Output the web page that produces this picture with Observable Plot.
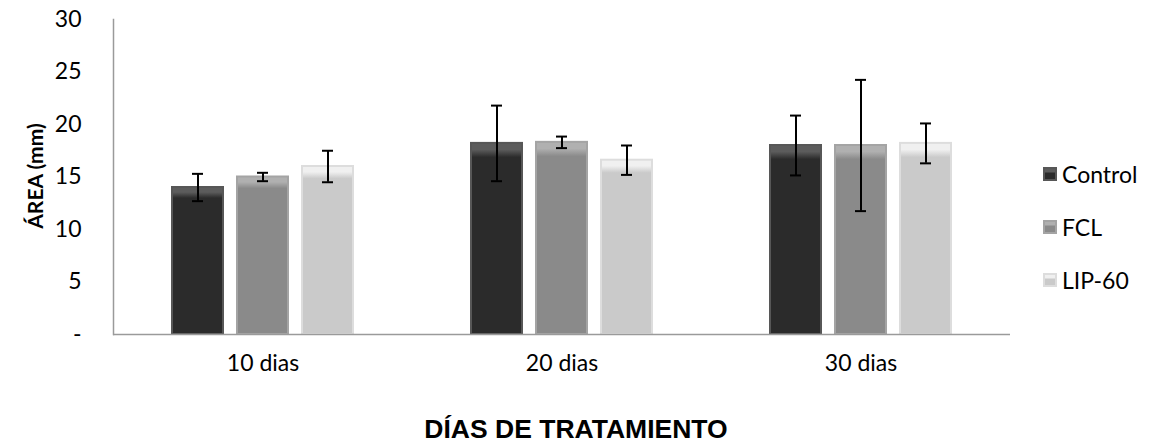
<!DOCTYPE html>
<html>
<head>
<meta charset="utf-8">
<script src="https://cdn.jsdelivr.net/npm/d3@7"></script>
<script src="https://cdn.jsdelivr.net/npm/@observablehq/plot@0.6"></script>
<style>
  html, body { margin: 0; padding: 0; background: #fff; }
  #wrap { position: relative; width: 1151px; height: 444px; overflow: hidden; font-family: Lato, sans-serif; }
  #title { position: absolute; left: 0; top: 414px; width: 1152px; text-align: center;
           font-family: "Liberation Sans", Arial, sans-serif; font-weight: bold; font-size: 26.5px; line-height: 30px; color: #000; }
  #ylabel { position: absolute; left: 35px; top: 176px; transform: translate(-50%, -50%) rotate(-90deg);
            white-space: nowrap; font-family: Lato, sans-serif; font-weight: bold; font-size: 21px; line-height: 24px; color: #000; }
  #legend { position: absolute; left: 1043px; top: 159px; }
  .li { display: flex; align-items: center; height: 30px; margin-bottom: 23px; font-size: 23px; color: #000; }
  .sw { width: 14px; height: 14px; margin-right: 5px; box-sizing: border-box; }
</style>
</head>
<body>
<div id="wrap">
  <div id="chart"></div>
  <div id="ylabel">ÁREA (mm)</div>
  <div id="legend"></div>
  <div id="title">DÍAS DE TRATAMIENTO</div>
</div>
<script>
// ---- data ----
const days = ["10 dias", "20 dias", "30 dias"];
const series = ["Control", "FCL", "LIP-60"];
const control = [14.0, 18.2, 18.0];
const fcl     = [15.0, 18.3, 18.0];
const lip60   = [16.0, 16.6, 18.2];
const controlErr = [1.3, 3.6, 2.85];
const fclErr     = [0.4, 0.55, 6.25];
const lip60Err   = [1.5, 1.4, 1.9];
const yTicks = [0, 5, 10, 15, 20, 25, 30];
const colors = ["#2b2b2b", "#8a8a8a", "#cacaca"];
const tops = ["#5c5c5c", "#b0b0b0", "#f0f0f0"];
const strokes = ["#575757", "#a4a4a4", "#dddddd"];
const gradIds = ["gC", "gF", "gL"];

const values = [control, fcl, lip60];
const errs = [controlErr, fclErr, lip60Err];
const rows = [];
days.forEach((d, i) => series.forEach((s, j) => {
  rows.push({day: d, series: s, value: values[j][i], err: errs[j][i]});
}));

const chart = Plot.plot({
  width: 1151,
  height: 395,
  marginLeft: 112,
  marginRight: 140,
  marginTop: 19,
  marginBottom: 61,
  style: {fontFamily: "Lato, sans-serif", fontSize: "23px", color: "#000", background: "#fff"},
  fx: {domain: days, padding: 0, label: null, tickSize: 0, tickPadding: 20},
  x: {domain: series, paddingInner: 0.22, paddingOuter: 0.89, axis: null},
  y: {domain: [0, 30], ticks: yTicks, tickFormat: d => d === 0 ? "-" : d, tickSize: 0, tickPadding: 32, label: null},
  color: {domain: series, range: gradIds.map(id => `url(#${id})`)},
  marks: [
    Plot.barY(rows, {fx: "day", x: "series", y: "value", fill: "series",
      stroke: d => strokes[series.indexOf(d.series)], strokeWidth: 2}),
    Plot.ruleY([0], {stroke: "#9a9a9a", strokeWidth: 1.5}),
    Plot.frame({anchor: "left", stroke: "#9a9a9a", strokeWidth: 1.5, facetAnchor: "left"}),
    Plot.ruleX(rows, {fx: "day", x: "series", y1: d => d.value - d.err, y2: d => d.value + d.err, stroke: "#000", strokeWidth: 2}),
    Plot.tickY(rows, {fx: "day", x: "series", y: d => d.value + d.err, stroke: "#000", strokeWidth: 2, insetLeft: 20, insetRight: 20}),
    Plot.tickY(rows, {fx: "day", x: "series", y: d => d.value - d.err, stroke: "#000", strokeWidth: 2, insetLeft: 20, insetRight: 20})
  ]
});

// bevel-like gradients
const ns = "http://www.w3.org/2000/svg";
const defs = document.createElementNS(ns, "defs");
gradIds.forEach((id, j) => {
  const g = document.createElementNS(ns, "linearGradient");
  g.setAttribute("id", id);
  g.setAttribute("x1", "0"); g.setAttribute("y1", "0");
  g.setAttribute("x2", "0"); g.setAttribute("y2", "1");
  [[0, tops[j]], [0.035, tops[j]], [0.075, colors[j]], [1, colors[j]]].forEach(([o, c]) => {
    const st = document.createElementNS(ns, "stop");
    st.setAttribute("offset", o);
    st.setAttribute("stop-color", c);
    g.appendChild(st);
  });
  defs.appendChild(g);
});
chart.insertBefore(defs, chart.firstChild);
document.getElementById("chart").appendChild(chart);

const leg = document.getElementById("legend");
series.forEach((s, j) => {
  const row = document.createElement("div");
  row.className = "li";
  const sw = document.createElement("span");
  sw.className = "sw";
  sw.style.background = `linear-gradient(${tops[j]} 0 25%, ${colors[j]} 45%)`;
  sw.style.border = "2px solid " + strokes[j];
  row.appendChild(sw);
  row.appendChild(document.createTextNode(s));
  leg.appendChild(row);
});
</script>
</body>
</html>
